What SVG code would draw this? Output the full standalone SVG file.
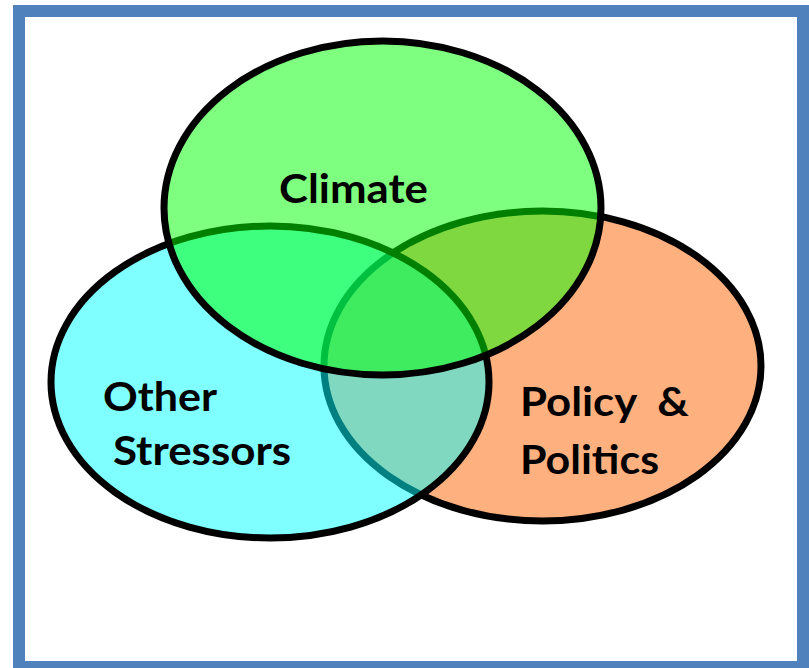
<svg xmlns="http://www.w3.org/2000/svg" width="809" height="668" viewBox="0 0 809 668">
<style>
.e{stroke:#000;stroke-width:7}
.t{font-family:Lato,"Open Sans","Liberation Sans",sans-serif;font-weight:bold;font-size:40px;fill:#000}
</style>
<rect x="0" y="0" width="809" height="668" fill="#fff"/>
<rect x="19" y="11" width="784" height="656" fill="#fff" stroke="#4F81BD" stroke-width="12"/>
<g id="policy">
<ellipse class="e" cx="542.5" cy="366" rx="218.5" ry="155" fill="#FF6100" fill-opacity="0.5"/>
</g>
<g id="other">
<ellipse class="e" cx="270" cy="382" rx="219" ry="156" fill="#00FFFF" fill-opacity="0.5"/>
</g>
<g id="climate">
<ellipse class="e" cx="382.5" cy="208" rx="218.5" ry="167" fill="#00FF00" fill-opacity="0.5"/>
</g>
<g id="labels">
<text class="t" x="279" y="203" textLength="149" lengthAdjust="spacingAndGlyphs">Climate</text>
<text class="t" x="103" y="411" textLength="114" lengthAdjust="spacingAndGlyphs">Other</text>
<text class="t" x="113" y="465" textLength="178" lengthAdjust="spacingAndGlyphs">Stressors</text>
<text class="t" x="520" y="416" textLength="169" lengthAdjust="spacingAndGlyphs" xml:space="preserve">Policy  &amp;</text>
<text class="t" x="520" y="474" textLength="139" lengthAdjust="spacingAndGlyphs">Politics</text>
</g>
</svg>
